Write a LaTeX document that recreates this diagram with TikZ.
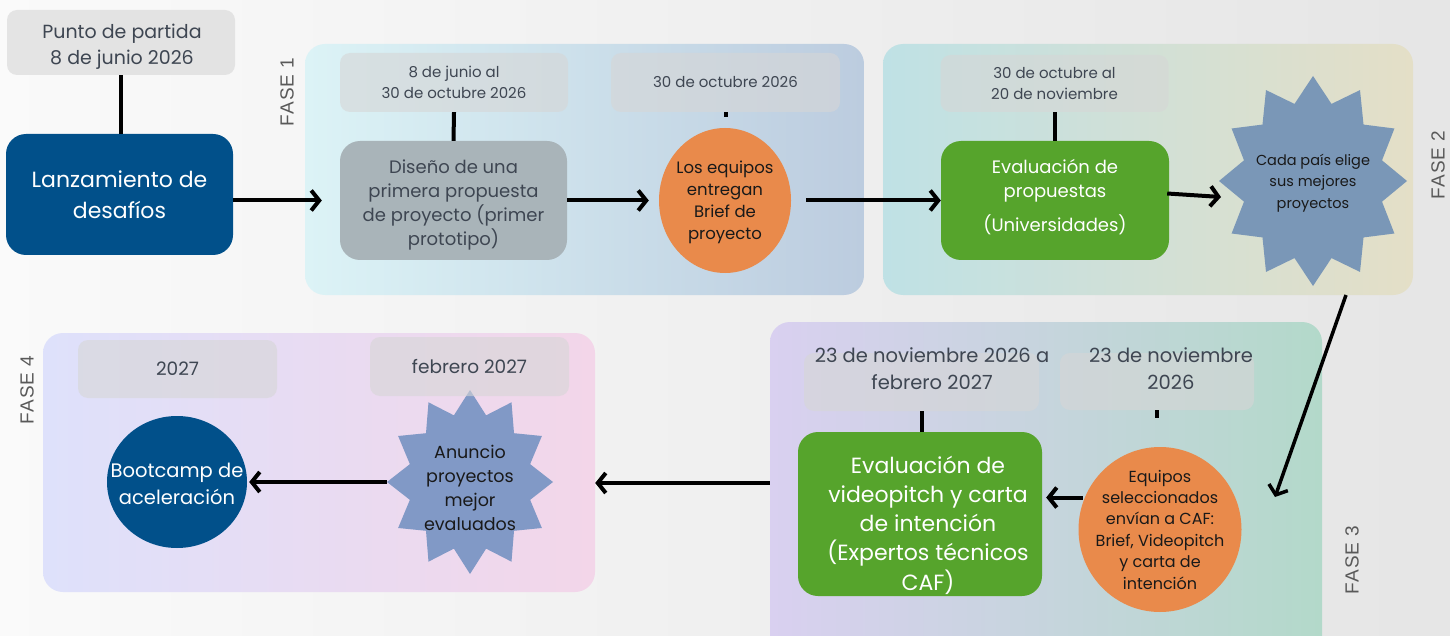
\documentclass[tikz,border=0pt]{standalone}
\usepackage{fontspec}
\setmainfont{Poppins}
\newfontfamily\fasefont[LetterSpace=6]{Liberation Sans}
\usetikzlibrary{arrows.meta,calc,shapes.geometric}

\definecolor{azul}{HTML}{01508A}
\definecolor{verde}{HTML}{56A42C}
\definecolor{naranja}{HTML}{E98A4B}
\definecolor{grisbox}{HTML}{A9B4B9}
\definecolor{fechagris}{HTML}{D6D6D6}
\definecolor{textogris}{HTML}{3E4652}
\definecolor{estrellaA}{HTML}{7A97B7}
\definecolor{estrellaB}{HTML}{8199C6}
\definecolor{f1a}{HTML}{DCF3F6}
\definecolor{f1b}{HTML}{BCCCDF}
\definecolor{f2a}{HTML}{BFE1E5}
\definecolor{f2b}{HTML}{E4DFC7}
\definecolor{f3a}{HTML}{D9D0F0}
\definecolor{f3b}{HTML}{B3D9CA}
\definecolor{f4a}{HTML}{DEE1FB}
\definecolor{f4b}{HTML}{F3D6E9}
\newcommand\fsz[2]{\fontsize{#1}{#2}\selectfont}

\begin{document}
\begin{tikzpicture}[x=1pt,y=-1pt,
  >={Straight Barb[length=8pt,width=20pt]},
  link/.style={line width=4pt,->},
  stem/.style={line width=4pt},
  panel/.style={rounded corners=20pt,inner sep=0pt},
  fecha/.style={rounded corners=10pt,fill=fechagris,fill opacity=0.6,text opacity=1,text=textogris,align=center,inner sep=0pt},
  caja/.style={rounded corners=20pt,align=center,inner sep=0pt},
  ovalo/.style={ellipse,inner sep=0pt},
  fase/.style={font=\fasefont\fsz{19}{19},text=black!65,rotate=90},
  texto/.style={align=center,inner sep=0pt},
  estrella/.style={text=black!90,align=center}]

  % fondo
  \shade[left color=white!98!black, right color=black!10] (0,0) rectangle (1450,636);
  \useasboundingbox (0,0) rectangle (1450,636);

  % fases
  \node[panel, left color=f1a, right color=f1b, minimum width=559pt, minimum height=251pt] (f1) at (584.5,169.5) {};
  \node[panel, left color=f2a, right color=f2b, minimum width=530pt, minimum height=251pt] (f2) at (1148,169.5) {};
  \node[panel, left color=f3a, right color=f3b, minimum width=552pt, minimum height=338pt] (f3) at (1046,491) {};
  \node[panel, left color=f4a, right color=f4b, minimum width=552pt, minimum height=259pt] (f4) at (319,462.5) {};

  \node[fase] (fase1) at (287,92) {FASE 1};
  \node[fase] (fase2) at (1438,165) {FASE 2};
  \node[fase] (fase3) at (1352,560) {FASE 3};
  \node[fase] (fase4) at (27,390) {FASE 4};

  % inicio
  \node[caja, fill=azul, text=white, font=\fsz{22}{31},
        minimum width=227pt, minimum height=121pt] (lanz) at (119.5,194.5) {Lanzamiento de\\desafíos};
  \node[fecha, minimum width=228pt, minimum height=65pt] (punto) at (121,42.5) {};
  \node[texto, text=textogris, font=\fsz{19}{26}] (puntotxt) at (122,46.5) {Punto de partida\\8 de junio 2026};

  % fase 1
  \node[caja, fill=grisbox, minimum width=227pt, minimum height=119pt] (diseno) at (453.5,200.5) {};
  \node[texto, text=textogris, font=\fsz{18}{24}] (disenotxt) at (453.5,205)
        {Diseño de una\\primera propuesta\\de proyecto (primer\\prototipo)};
  \node[ovalo, fill=naranja, minimum width=132pt, minimum height=145pt] (entregan) at (725,200.5) {};
  \node[estrella, font=\fsz{16.5}{22}] (entregantxt) at (725,202) {Los equipos\\entregan\\Brief de\\proyecto};
  \node[fecha, font=\fsz{15}{21}, minimum width=228pt, minimum height=59pt] (dfase1) at (454,82.5)
        {8 de junio al\\30 de octubre 2026};
  \node[fecha, font=\fsz{15}{21}, minimum width=229pt, minimum height=59pt] (doct) at (725.5,82.5)
        {30 de octubre 2026};

  % fase 2
  \node[caja, fill=verde, minimum width=228pt, minimum height=119pt] (evalprop) at (1055,200.5) {};
  \node[texto, text=white, font=\fsz{18}{24}] (evalproptxt) at (1055,197.5)
        {Evaluación de\\propuestas\\[10pt](Universidades)};
  \coordinate (paisc) at (1313,181);
  \fill[estrellaA] ($(paisc)+(90:94 and 105)$)
    \foreach \i [evaluate=\i as \rad using {mod(\i,2)==0 ? 1 : 0.76}] in {1,...,23}
      { -- ($(paisc)+({90+15*\i}:{94*\rad} and {105*\rad})$) } -- cycle;
  \node[estrella, font=\fsz{14.5}{21.5}] (pais) at (1313,183) {Cada país elige\\sus mejores\\proyectos};
  \node[fecha, font=\fsz{15}{21}, minimum width=228pt, minimum height=57pt] (dnov) at (1054.5,83.5)
        {30 de octubre al\\20 de noviembre};

  % fase 3
  \node[caja, fill=verde, minimum width=244pt, minimum height=164pt] (evalcaf) at (920,514) {};
  \node[texto, text=white, font=\fsz{22}{29.3}] (evalcaftxt) at (928,525)
        {Evaluación de\\videopitch y carta\\de intención\\(Expertos técnicos\\CAF)};
  \node[ovalo, fill=naranja, minimum width=163pt, minimum height=165pt] (envian) at (1160,529.5) {};
  \node[estrella, font=\fsz{16}{21.4}] (enviantxt) at (1160,529.5)
        {Equipos\\seleccionados\\envían a CAF:\\Brief, Videopitch\\y carta de\\intención};
  \node[fecha, minimum width=235pt, minimum height=58pt] (dcafbox) at (921.5,382) {};
  \node[texto, text=textogris, font=\fsz{19.5}{27}] (dcaf) at (932,369)
        {23 de noviembre 2026 a\\febrero 2027};
  \node[fecha, minimum width=194pt, minimum height=57pt] (dselbox) at (1157,381.5) {};
  \node[texto, text=textogris, font=\fsz{19.5}{27}] (dsel) at (1171,369)
        {23 de noviembre\\2026};

  % fase 4
  \node[ovalo, fill=azul, minimum width=140pt, minimum height=132pt] (boot) at (177,482) {};
  \node[texto, text=white, font=\fsz{19.5}{27}] (boottxt) at (177,484) {Bootcamp de\\aceleración};
  \coordinate (anunc) at (470,482);
  \fill[estrellaB] ($(anunc)+(90:83 and 92)$)
    \foreach \i [evaluate=\i as \rad using {mod(\i,2)==0 ? 1 : 0.75}] in {1,...,23}
      { -- ($(anunc)+({90+15*\i}:{83*\rad} and {92*\rad})$) } -- cycle;
  \node[estrella, font=\fsz{17.5}{24}] (anuncio) at (470,488) {Anuncio\\proyectos\\mejor\\evaluados};
  \node[fecha, font=\fsz{18.5}{24}, minimum width=199pt, minimum height=58pt] (d2027) at (177.5,369) {2027};
  \node[fecha, font=\fsz{18.5}{24}, minimum width=199pt, minimum height=59pt] (dfeb) at (469.5,366.5) {febrero 2027};

  % conectores
  \coordinate (paisin) at (1221,197);
  \coordinate (diagA) at (1346,295);
  \coordinate (diagB) at (1275,497);
  \coordinate (fila) at (500,483);
  \coordinate (anunW) at (387,482);

  \draw[stem] (punto.south) -- (punto.south |- lanz.north);
  \draw[stem] (dfase1.south) -- (diseno.north);
  \draw[stem] (doct.south) -- ++(0,5);
  \draw[stem] (dnov.south) -- (dnov.south |- evalprop.north);
  \draw[stem] (dcafbox.south) -- (dcafbox.south |- evalcaf.north);
  \draw[stem] (dselbox.south) -- ++(0,8);

  \draw[link, shorten >=18pt] (lanz.east |- diseno.west) -- (diseno.west);
  \draw[link, shorten >=10pt] (diseno.east) -- (entregan.west);
  \draw[link, shorten <=15pt] (entregan.east) -- (evalprop.west);
  \draw[link] ($(evalprop.east)+(-2,-7)$) -- (paisin);
  \draw[link, line width=3.5pt] (diagA) -- (diagB);
  \draw[link, shorten <=2pt, shorten >=4pt] (envian.157) -- (envian.157 -| evalcaf.east);
  \draw[link] (f3.west |- fila) -- (f4.east |- fila);
  \draw[link, shorten >=2pt] (anunW) -- (boot.east);
\end{tikzpicture}
\end{document}
